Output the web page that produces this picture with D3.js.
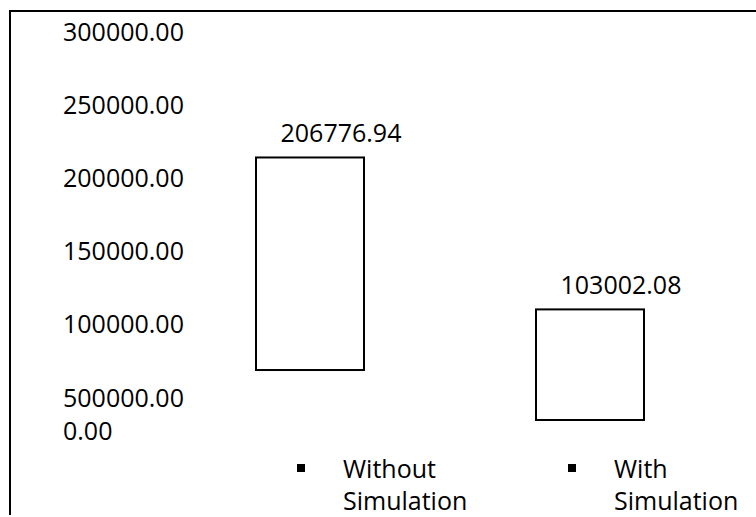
<!DOCTYPE html>
<html>
<head>
<meta charset="utf-8">
<script src="https://cdn.jsdelivr.net/npm/d3@7"></script>
<style>
  html, body { margin: 0; padding: 0; background: #fff; }
  svg { display: block; }
  text { font-family: "Open Sans", "Noto Sans", sans-serif; fill: #000; }
</style>
</head>
<body>
<svg id="chart" width="756" height="517"></svg>
<script>
// Cost comparison data
const categories = ["Without Simulation", "With Simulation"];
const values = [206776.94, 103002.08];
// lower end of each floating bar
const bases = [61600, 0];
// value axis
const tickValues = [300000, 250000, 200000, 150000, 100000, 50000, 0];
const tickLabels = ["300000.00", "250000.00", "200000.00", "150000.00", "100000.00", "500000.00", "0.00"];

const W = 756, H = 517;
const fontSize = 25;
const svg = d3.select("#chart");

// frame: top and left edges
svg.append("path")
  .attr("d", `M10,${H - 2}V11H${W}`)
  .attr("fill", "none")
  .attr("stroke", "#000")
  .attr("stroke-width", 2);

// value scale; the lowest interval is drawn compressed
const y = d3.scaleLinear()
  .domain([0, 50000, 300000])
  .range([420, 387, 21]);

// category positions
const x = d3.scalePoint()
  .domain(categories)
  .range([310, 590]);
const barWidth = 108;

// axis labels, left-aligned, no lines
const axis = d3.axisLeft(y)
  .tickValues(tickValues)
  .tickSize(0)
  .tickFormat((d, i) => tickLabels[i]);

const gAxis = svg.append("g")
  .attr("transform", "translate(63,0)")
  .call(axis);
gAxis.select(".domain").remove();
gAxis.selectAll(".tick text")
  .attr("x", 0)
  .attr("dy", "0.76em")
  .attr("text-anchor", "start")
  .style("font-family", "'Open Sans', 'Noto Sans', sans-serif")
  .style("font-size", fontSize + "px")
  .attr("fill", "#000");

const data = categories.map((c, i) => ({ c, v: values[i], b: bases[i] }));

// bars
svg.append("g").selectAll("rect")
  .data(data)
  .join("rect")
  .attr("x", d => x(d.c) - barWidth / 2)
  .attr("y", d => y(d.v))
  .attr("width", barWidth)
  .attr("height", d => y(d.b) - y(d.v))
  .attr("fill", "#fff")
  .attr("stroke", "#000")
  .attr("stroke-width", 2);

// value labels
const fmt = d3.format(".2f");
svg.append("g").selectAll("text")
  .data(data)
  .join("text")
  .attr("x", d => x(d.c) + 31)
  .attr("y", d => y(d.v) - 15)
  .attr("text-anchor", "middle")
  .style("font-size", fontSize + "px")
  .text(d => fmt(d.v));

// legend
const legendX0 = 297, legendStep = 271;
const legend = svg.append("g").selectAll("g")
  .data(categories)
  .join("g")
  .attr("transform", (d, i) => `translate(${legendX0 + i * legendStep},0)`);

legend.append("rect")
  .attr("x", 0)
  .attr("y", 464)
  .attr("width", 8)
  .attr("height", 8)
  .attr("fill", "#000");

legend.append("text")
  .style("font-size", fontSize + "px")
  .each(function (d) {
    const t = d3.select(this);
    d.split(" ").forEach((word, j) => {
      t.append("tspan")
        .attr("x", 46)
        .attr("y", 478 + j * 32)
        .text(word);
    });
  });
</script>
</body>
</html>
